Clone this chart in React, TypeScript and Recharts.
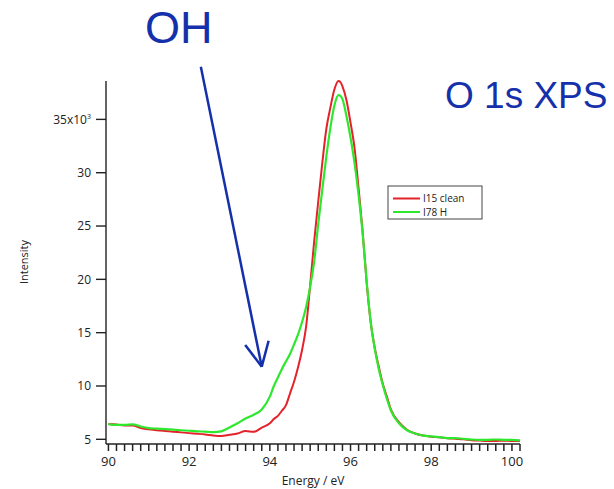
import React from "react";
import { LineChart, Line, XAxis, YAxis, ReferenceLine } from "recharts";

// binding energy (eV) sample positions
const energy = [
    90.0, 90.2, 90.4, 90.6, 90.8, 91.0, 91.2, 91.4, 91.6, 91.8, 92.0, 92.2, 92.4, 92.6, 92.8, 93.0,
    93.2, 93.4, 93.6, 93.8, 94.0, 94.1, 94.2, 94.3, 94.4, 94.5, 94.6, 94.7, 94.8, 94.9, 95.0, 95.1,
    95.2, 95.3, 95.4, 95.5, 95.6, 95.7, 95.75, 95.8, 95.9, 96.0, 96.1, 96.2, 96.3, 96.4, 96.5, 96.6,
    96.7, 96.8, 96.9, 97.0, 97.2, 97.4, 97.6, 97.8, 98.0, 98.2, 98.4, 98.6, 98.8, 99.0, 99.2, 99.4,
    99.6, 99.8, 100.0, 100.2,
];

// I15 clean (x10^3 counts)
const clean = [
    6.43, 6.38, 6.3, 6.3, 6.05, 5.95, 5.85, 5.78, 5.72, 5.65, 5.58, 5.52, 5.45, 5.35, 5.3, 5.42,
    5.55, 5.78, 5.7, 6.1, 6.5, 6.9, 7.2, 7.68, 8.2, 9.3, 10.4, 11.75, 13.4, 15.6, 19.45, 23.6,
    27.3, 30.9, 34.1, 36.1, 37.8, 38.6, 38.5, 38.1, 36.8, 34.7, 32.3, 28.5, 24.5, 19.7, 16.0, 13.6,
    11.8, 10.2, 9.0, 7.8, 6.6, 5.9, 5.55, 5.35, 5.25, 5.2, 5.1, 5.05, 5.0, 4.92, 4.88, 4.85,
    4.85, 4.86, 4.85, 4.83,
];

// I78 H
const hydro = [
    6.43, 6.35, 6.35, 6.4, 6.2, 6.05, 6.0, 5.95, 5.9, 5.85, 5.8, 5.75, 5.72, 5.68, 5.75, 6.1,
    6.5, 6.95, 7.3, 7.8, 9.0, 10.0, 10.8, 11.6, 12.3, 13.0, 13.9, 14.85, 16.0, 17.4, 19.3, 21.7,
    25.2, 28.4, 31.5, 34.2, 36.3, 37.27, 37.2, 36.9, 35.3, 33.3, 30.9, 27.9, 24.3, 19.8, 16.0, 13.5,
    11.6, 10.1, 8.8, 7.7, 6.5, 5.85, 5.55, 5.35, 5.28, 5.2, 5.12, 5.12, 5.05, 4.98, 4.95, 4.95,
    4.98, 4.95, 4.95, 4.9,
];

const yTicks = [5, 10, 15, 20, 25, 30, 35];
const xMajor = [90, 92, 94, 96, 98, 100];
const xMinor = Array.from({ length: 52 }, (_, i) => +(90 + i * 0.2).toFixed(1));

const data = energy.map((e, i) => ({ e, clean: clean[i], hydro: hydro[i] }));

const BLUE = "#1430aa";
const RED = "#e4222a";
const GREEN = "#2ee82e";
const INK = "#222";
const FONT = "'Open Sans', sans-serif";

// only the even integers get a label
function XTick(props: any) {
    const { x, y, payload } = props;
    if (!xMajor.some((m) => Math.abs(m - payload.value) < 1e-6)) return <g />;
    return (
        <text x={x} y={y + 15} textAnchor="middle" fontSize={13} fill={INK} fontFamily={FONT}>
            {payload.value}
        </text>
    );
}

function YTick(props: any) {
    const { x, y, payload } = props;
    return (
        <text x={x} y={y} dy="0.35em" textAnchor="end" fontSize={12} fill={INK} fontFamily={FONT}>
            {payload.value === 35 ? (
                <>
                    35x10
                    <tspan dy="-0.6em" fontSize={7}>3</tspan>
                </>
            ) : (
                payload.value
            )}
        </text>
    );
}

export default function App() {
    return (
        <div style={{ position: "absolute", left: 0, top: 0, width: 614, height: 489, background: "#fff" }}>
            <LineChart width={614} height={489} data={data} margin={{ top: 81, right: 94, bottom: 15, left: 46 }}>
                <XAxis
                    dataKey="e"
                    type="number"
                    domain={[89.94, 100.2]}
                    ticks={xMinor}
                    interval={0}
                    tickSize={7}
                    tickMargin={0}
                    tickLine={{ stroke: INK, strokeWidth: 1.5 }}
                    tick={<XTick />}
                    axisLine={{ stroke: INK, strokeWidth: 1.4 }}
                    height={30}
                    label={{
                        content: () => (
                            <text x={313} y={485} textAnchor="middle" fontSize={12} fill={INK} fontFamily={FONT}>
                                Energy / eV
                            </text>
                        ),
                    }}
                />
                <YAxis
                    type="number"
                    domain={[4.56, 38.6]}
                    ticks={yTicks}
                    width={60}
                    tickSize={10}
                    tickMargin={5}
                    tickLine={{ stroke: INK, strokeWidth: 1.4 }}
                    axisLine={{ stroke: INK, strokeWidth: 1.4 }}
                    tick={<YTick />}
                    label={{
                        content: () => (
                            <text x={28} y={262} transform="rotate(-90 28 262)" textAnchor="middle" fontSize={11} fill={INK} fontFamily={FONT}>
                                Intensity
                            </text>
                        ),
                    }}
                />
                <Line type="monotone" dataKey="clean" stroke={RED} strokeWidth={2} dot={false} isAnimationActive={false} />
                <Line type="monotone" dataKey="hydro" stroke={GREEN} strokeWidth={2.2} dot={false} isAnimationActive={false} />
                {/* OH annotation arrow */}
                <ReferenceLine segment={[{ x: 92.29, y: 39.93 }, { x: 93.8, y: 11.81 }]} stroke={BLUE} strokeWidth={2.5} ifOverflow="visible" />
                <ReferenceLine segment={[{ x: 93.39, y: 13.84 }, { x: 93.8, y: 11.81 }]} stroke={BLUE} strokeWidth={2.5} ifOverflow="visible" />
                <ReferenceLine segment={[{ x: 93.97, y: 14.24 }, { x: 93.8, y: 11.81 }]} stroke={BLUE} strokeWidth={2.5} ifOverflow="visible" />
            </LineChart>

            <svg width={614} height={489} style={{ position: "absolute", left: 0, top: 0, pointerEvents: "none" }}>
                <text x={145} y={43} fontSize={45} fill={BLUE} fontFamily="'Liberation Sans', Arial, sans-serif">
                    OH
                </text>
                <text x={445} y={108} fontSize={37} fill={BLUE} fontFamily="'Liberation Sans', Arial, sans-serif">
                    O 1s XPS
                </text>
                <rect x={388} y={186} width={94} height={33} fill="#fff" stroke="#444" strokeWidth={1} />
                <line x1={393} x2={420} y1={198.5} y2={198.5} stroke={RED} strokeWidth={2} />
                <line x1={393} x2={420} y1={212} y2={212} stroke={GREEN} strokeWidth={2} />
                <text x={423} y={202} fontSize={10} fill={INK} fontFamily={FONT}>I15 clean</text>
                <text x={423} y={215.5} fontSize={10} fill={INK} fontFamily={FONT}>I78 H</text>
            </svg>
        </div>
    );
}
